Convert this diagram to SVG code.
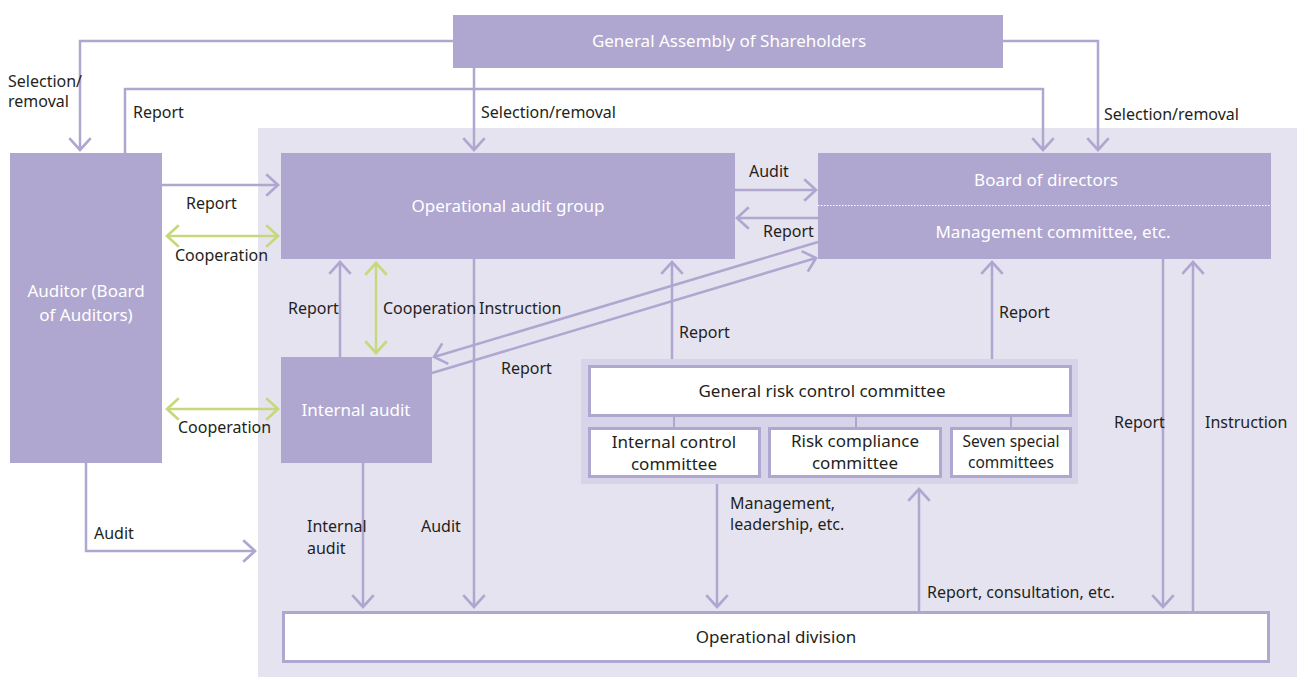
<svg xmlns="http://www.w3.org/2000/svg" width="1297" height="677" viewBox="0 0 1297 677">
<style>
.box{fill:#afa7cf}
.wbox{fill:#fff;stroke:#afa7cf;stroke-width:3}
.wt{fill:#fff;font-family:"Noto Sans","Open Sans",sans-serif;font-size:17px;text-anchor:middle}
.dt{fill:#231f20;font-family:"Noto Sans","Open Sans",sans-serif;font-size:17px;text-anchor:middle}
.lb{fill:#231f20;font-family:"Noto Sans","Open Sans",sans-serif;font-size:16px}
.ln{fill:none;stroke:#afa7cf;stroke-width:2.5}
.gl{fill:none;stroke:#c6d97a;stroke-width:2.5}
</style>
<defs>
<marker id="ah" markerUnits="userSpaceOnUse" markerWidth="30" markerHeight="30" refX="0" refY="0" viewBox="-14 -14 28 28" orient="auto">
<path d="M-11,-10 L0,0 L-11,10" fill="none" stroke="#afa7cf" stroke-width="2.5"/>
</marker>
<marker id="gh" markerUnits="userSpaceOnUse" markerWidth="30" markerHeight="30" refX="0" refY="0" viewBox="-14 -14 28 28" orient="auto-start-reverse">
<path d="M-11,-10 L0,0 L-11,10" fill="none" stroke="#c6d97a" stroke-width="2.5"/>
</marker>
</defs>
<rect x="0" y="0" width="1297" height="677" fill="#fff"/>
<rect id="bg" x="258" y="128" width="1039" height="549" fill="#e6e3f1"/>

<g id="connectors">
<polyline class="ln" points="453,41 80,41 80,150" marker-end="url(#ah)"/>
<polyline class="ln" points="1003,41 1098,41 1098,150" marker-end="url(#ah)"/>
<polyline class="ln" points="125,153 125,89 1043,89 1043,150" marker-end="url(#ah)"/>
<line class="ln" x1="474" y1="68" x2="474" y2="150" marker-end="url(#ah)"/>
<line class="ln" x1="162" y1="185" x2="278" y2="185" marker-end="url(#ah)"/>
<line class="gl" x1="167" y1="236" x2="278" y2="236" marker-start="url(#gh)" marker-end="url(#gh)"/>
<line class="gl" x1="167" y1="409" x2="278" y2="409" marker-start="url(#gh)" marker-end="url(#gh)"/>
<polyline class="ln" points="86,463 86,551 255,551" marker-end="url(#ah)"/>
<line class="ln" x1="735" y1="190" x2="816" y2="190" marker-end="url(#ah)"/>
<line class="ln" x1="818" y1="218" x2="737" y2="218" marker-end="url(#ah)"/>
<line class="ln" x1="340" y1="357" x2="340" y2="262" marker-end="url(#ah)"/>
<line class="gl" x1="376" y1="263" x2="376" y2="353" marker-start="url(#gh)" marker-end="url(#gh)"/>
<line class="ln" x1="818" y1="242" x2="434" y2="357" marker-end="url(#ah)"/>
<line class="ln" x1="432" y1="373" x2="816" y2="258" marker-end="url(#ah)"/>
<line class="ln" x1="474" y1="259" x2="474" y2="607" marker-end="url(#ah)"/>
<line class="ln" x1="363" y1="463" x2="363" y2="607" marker-end="url(#ah)"/>
<line class="ln" x1="672" y1="359" x2="672" y2="262" marker-end="url(#ah)"/>
<line class="ln" x1="992" y1="359" x2="992" y2="262" marker-end="url(#ah)"/>
<line class="ln" x1="717" y1="484" x2="717" y2="607" marker-end="url(#ah)"/>
<line class="ln" x1="919" y1="612" x2="919" y2="489" marker-end="url(#ah)"/>
<line class="ln" x1="1163" y1="259" x2="1163" y2="607" marker-end="url(#ah)"/>
<line class="ln" x1="1193" y1="612" x2="1193" y2="262" marker-end="url(#ah)"/>
</g>

<g id="labels">
<text class="lb" x="8" y="87">Selection/</text>
<text class="lb" x="8" y="107">removal</text>
<text class="lb" x="133" y="118">Report</text>
<text class="lb" x="481" y="118">Selection/removal</text>
<text class="lb" x="1104" y="120">Selection/removal</text>
<text class="lb" x="186" y="209">Report</text>
<text class="lb" x="175" y="261">Cooperation</text>
<text class="lb" x="749" y="177">Audit</text>
<text class="lb" x="763" y="237">Report</text>
<text class="lb" x="288" y="314">Report</text>
<text class="lb" x="383" y="314">Cooperation</text>
<text class="lb" x="479" y="314">Instruction</text>
<text class="lb" x="501" y="374">Report</text>
<text class="lb" x="679" y="338">Report</text>
<text class="lb" x="999" y="318">Report</text>
<text class="lb" x="178" y="433">Cooperation</text>
<text class="lb" x="94" y="539">Audit</text>
<text class="lb" x="307" y="532">Internal</text>
<text class="lb" x="307" y="554">audit</text>
<text class="lb" x="421" y="532">Audit</text>
<text class="lb" x="730" y="509">Management,</text>
<text class="lb" x="730" y="530">leadership, etc.</text>
<text class="lb" x="927" y="598">Report, consultation, etc.</text>
<text class="lb" x="1114" y="428">Report</text>
<text class="lb" x="1205" y="428">Instruction</text>
</g>

<g id="shareholders">
<rect class="box" x="453" y="15" width="550" height="53"/>
<text class="wt" x="729" y="47">General Assembly of Shareholders</text>
</g>
<g id="auditor">
<rect class="box" x="10" y="153" width="152" height="310"/>
<text class="wt" x="86" y="297">Auditor (Board</text>
<text class="wt" x="86" y="321">of Auditors)</text>
</g>
<g id="opaudit">
<rect class="box" x="281" y="153" width="454" height="106"/>
<text class="wt" x="508" y="212">Operational audit group</text>
</g>
<g id="board">
<rect class="box" x="818" y="153" width="453" height="106"/>
<line x1="818" y1="205.5" x2="1271" y2="205.5" stroke="#fff" stroke-width="1" stroke-dasharray="1.5,1.5"/>
<text class="wt" x="1046" y="186">Board of directors</text>
<text class="wt" x="1053" y="238">Management committee, etc.</text>
</g>
<g id="internalaudit">
<rect class="box" x="281" y="357" width="151" height="106"/>
<text class="wt" x="356" y="416">Internal audit</text>
</g>
<g id="riskgroup">
<rect x="581" y="359" width="497" height="125" fill="#d7d3e8"/>
<line x1="674" y1="416" x2="674" y2="427" stroke="#afa7cf" stroke-width="2"/>
<line x1="856" y1="416" x2="856" y2="427" stroke="#afa7cf" stroke-width="2"/>
<line x1="1011" y1="416" x2="1011" y2="427" stroke="#afa7cf" stroke-width="2"/>
<g id="generalrisk">
<rect class="wbox" x="589.5" y="366.5" width="481" height="49"/>
<text class="dt" x="822" y="397">General risk control committee</text>
</g>
<g id="internalcontrol">
<rect class="wbox" x="589.5" y="428.5" width="170" height="48"/>
<text class="dt" x="674" y="448">Internal control</text>
<text class="dt" x="674" y="470">committee</text>
</g>
<g id="riskcompliance">
<rect class="wbox" x="769.5" y="428.5" width="171" height="48"/>
<text class="dt" x="855" y="447">Risk compliance</text>
<text class="dt" x="855" y="469">committee</text>
</g>
<g id="sevenspecial">
<rect class="wbox" x="951.5" y="428.5" width="119" height="48"/>
<text class="dt" x="1011" y="447" style="font-size:15.5px">Seven special</text>
<text class="dt" x="1011" y="468" style="font-size:15.5px">committees</text>
</g>
</g>
<g id="opdivision">
<rect class="wbox" x="283.5" y="612.5" width="985" height="49"/>
<text class="dt" x="776" y="643">Operational division</text>
</g>
</svg>
